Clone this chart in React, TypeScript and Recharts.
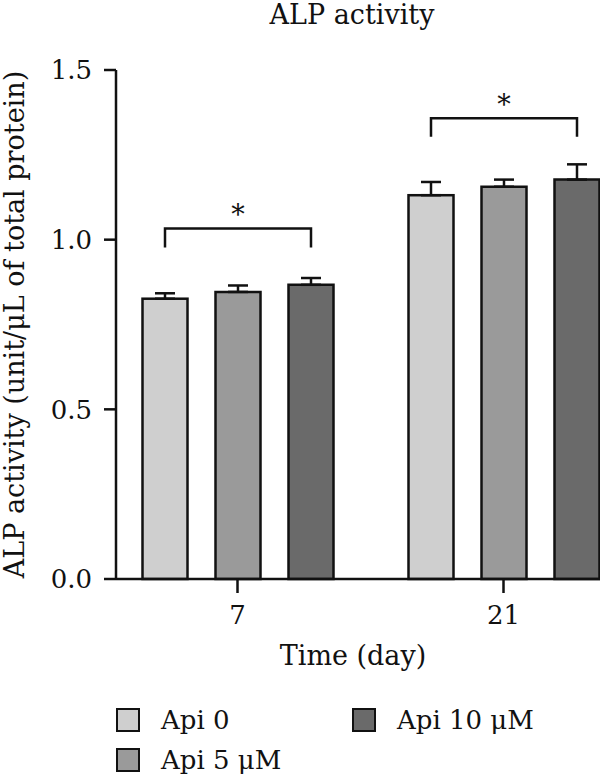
import { Bar, BarChart, ErrorBar, Legend, XAxis, YAxis } from "recharts";

const days = ["7", "21"];
const api0 = [0.826, 1.131];
const api0Sd = [0.016, 0.039];
const api5 = [0.846, 1.156];
const api5Sd = [0.019, 0.021];
const api10 = [0.867, 1.177];
const api10Sd = [0.02, 0.045];
const bracketTop = [1.033, 1.358];
const bracketFoot = [0.977, 1.303];
const sigMarks = ["*", "*"];
const yTicks = [0, 0.5, 1.0, 1.5];

const data = days.map((day, i) => ({
  day,
  api0: api0[i],
  api0Err: [0, api0Sd[i]],
  api5: api5[i],
  api5Err: [0, api5Sd[i]],
  api10: api10[i],
  api10Err: [0, api10Sd[i]],
}));

const FONT = "'DejaVu Serif', serif";
const INK = "#111";
const BAR = 45;
const GAP = 28;

// legend cells: Api 0 / Api 5 in the first column, Api 10 in the second
const legendCells: Record<string, { row: number; col: number }> = {
  api0: { row: 1, col: 1 },
  api5: { row: 2, col: 1 },
  api10: { row: 1, col: 2 },
};

// first bar of each group also carries the significance bracket
const BracketBar = (props: any) => {
  const { x, y, width, height, fill, payload } = props;
  const i = days.indexOf(payload.day);
  const base = y + height;
  const perUnit = height / payload.api0;
  const toY = (v: number) => base - v * perUnit;
  const x1 = x + width / 2;
  const x2 = x1 + 2 * (BAR + GAP);
  const top = toY(bracketTop[i]);
  const foot = toY(bracketFoot[i]);
  return (
    <g>
      <rect x={x} y={y} width={width} height={height} fill={fill} stroke={INK} strokeWidth={2.5} />
      <path d={`M${x1},${foot}V${top}H${x2}V${foot}`} fill="none" stroke={INK} strokeWidth={2.5} />
      <text x={(x1 + x2) / 2} y={top - 4} textAnchor="middle" fontSize={27} fontFamily={FONT} fill={INK}>
        {sigMarks[i]}
      </text>
    </g>
  );
};

const renderLegend = ({ payload }: any) => (
  <div
    style={{
      display: "grid",
      gridTemplateColumns: "236px auto",
      gridTemplateRows: "40px 40px",
      fontFamily: FONT,
      fontSize: 26,
      color: INK,
    }}
  >
    {payload.map((p: any) => {
      const cell = legendCells[p.dataKey] ?? { row: 2, col: 2 };
      return (
        <div
          key={p.value}
          style={{ display: "flex", alignItems: "center", gridRow: cell.row, gridColumn: cell.col }}
        >
          <span
            style={{
              width: 20,
              height: 20,
              background: p.color,
              border: `2.5px solid ${INK}`,
              marginRight: 21,
            }}
          />
          {p.value}
        </div>
      );
    })}
  </div>
);

const yTitle = (props: any) => {
  const vb = props.viewBox;
  const cy = vb.y + vb.height / 2;
  return (
    <text
      transform={`translate(24, ${cy}) rotate(-90)`}
      textAnchor="middle"
      fontSize={27}
      fontFamily={FONT}
      fill={INK}
    >
      ALP activity (unit/μL of total protein)
    </text>
  );
};

const xTitle = (props: any) => {
  const vb = props.viewBox;
  return (
    <text x={353} y={vb.y + 86} textAnchor="middle" fontSize={27} fontFamily={FONT} fill={INK}>
      Time (day)
    </text>
  );
};

export default function App() {
  const tick = { fill: INK, fontSize: 26, fontFamily: FONT };
  const line = { stroke: INK, strokeWidth: 2.5 };
  return (
    <div style={{ position: "relative", width: 600, height: 776 }}>
      <style>{"body{margin:0}"}</style>
      <div
        style={{
          position: "absolute",
          top: 0,
          left: 232,
          width: 240,
          textAlign: "center",
          fontFamily: FONT,
          fontSize: 27,
          lineHeight: "30px",
          color: INK,
        }}
      >
        ALP activity
      </div>
      <BarChart
        width={600}
        height={776}
        data={data}
        margin={{ top: 70, right: 0, bottom: 0, left: 0 }}
        barSize={BAR}
        barGap={GAP}
      >
        <XAxis
          dataKey="day"
          height={121}
          padding={{ left: -11.5, right: -36.5 }}
          tickSize={14}
          tickMargin={13}
          tick={tick}
          axisLine={line}
          tickLine={line}
          label={xTitle}
        />
        <YAxis
          width={116}
          domain={[0, 1.5]}
          ticks={yTicks}
          tickFormatter={(v: number) => v.toFixed(1)}
          tickSize={12}
          tickMargin={12}
          tick={tick}
          axisLine={line}
          tickLine={line}
          label={yTitle}
        />
        <Legend
          verticalAlign="bottom"
          height={76}
          wrapperStyle={{ left: 116, width: 484, bottom: 0 }}
          content={renderLegend}
        />
        <Bar dataKey="api0" name="Api 0" fill="#cfcfcf" shape={BracketBar} isAnimationActive={false}>
          <ErrorBar dataKey="api0Err" width={10} stroke={INK} strokeWidth={2.5} />
        </Bar>
        <Bar dataKey="api5" name="Api 5 μM" fill="#9a9a9a" stroke={INK} strokeWidth={2.5} isAnimationActive={false}>
          <ErrorBar dataKey="api5Err" width={10} stroke={INK} strokeWidth={2.5} />
        </Bar>
        <Bar dataKey="api10" name="Api 10 μM" fill="#6a6a6a" stroke={INK} strokeWidth={2.5} isAnimationActive={false}>
          <ErrorBar dataKey="api10Err" width={10} stroke={INK} strokeWidth={2.5} />
        </Bar>
      </BarChart>
    </div>
  );
}
